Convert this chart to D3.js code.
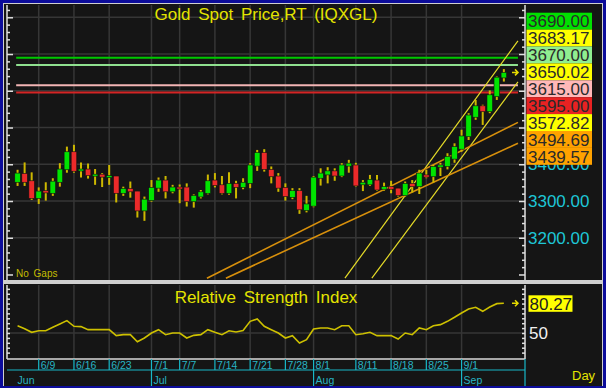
<!DOCTYPE html>
<html>
<head>
<meta charset="utf-8">
<script src="https://cdn.jsdelivr.net/npm/d3@7"></script>
<style>
  body { margin: 0; background: #ffffff; }
  svg { display: block; font-family: Arial, "Liberation Sans", sans-serif; }
</style>
</head>
<body>
<svg id="chart" width="606" height="388"></svg>
<script>
// ---- data ----
var dates = [
  "6/4","6/5","6/6","6/9","6/10","6/11","6/12","6/13","6/16","6/17","6/18","6/19","6/20",
  "6/23","6/24","6/25","6/26","6/27","6/30",
  "7/1","7/2","7/3","7/4","7/7","7/8","7/9","7/10","7/11","7/14","7/15","7/16","7/17","7/18",
  "7/21","7/22","7/23","7/24","7/25","7/28","7/29","7/30","7/31",
  "8/1","8/4","8/5","8/6","8/7","8/8","8/11","8/12","8/13","8/14","8/15","8/18","8/19","8/20",
  "8/21","8/22","8/25","8/26","8/27","8/28","8/29",
  "9/1","9/2","9/3","9/4","9/5","9/8","9/9"
];
var opens = [3351,3375,3355,3307,3328,3321,3351,3385,3434,3382,3387,3369,3373,3365,3368,3321,3334,3327,3273,
  3301,3335,3357,3325,3338,3338,3298,3311,3321,3357,3344,3321,3348,3337,
  3348,3395,3432,3386,3368,3337,3310,3328,3274,
  3286,3362,3371,3382,3368,3395,3398,3344,3344,3357,3332,3339,3335,3315,3348,3339,3371,3366,3392,3394,3414,
  3441,3475,3528,3559,3543,3584,3635];
var highs = [3385,3405,3378,3337,3351,3362,3403,3448,3453,3405,3402,3387,3376,3398,3368,3339,3353,3327,3312,
  3357,3364,3368,3344,3345,3348,3318,3330,3372,3376,3368,3378,3355,3362,
  3403,3439,3441,3394,3376,3348,3335,3335,3314,
  3368,3389,3392,3389,3403,3412,3404,3357,3371,3371,3350,3355,3335,3353,3357,3385,3385,3398,3404,3430,3457,
  3494,3539,3575,3562,3601,3639,3659];
var lows = [3341,3341,3303,3292,3301,3314,3339,3377,3377,3364,3361,3344,3338,3344,3296,3314,3309,3255,3246,
  3298,3325,3307,3321,3294,3285,3282,3307,3318,3337,3318,3317,3307,3332,
  3335,3382,3380,3348,3325,3301,3305,3265,3269,
  3283,3342,3348,3355,3365,3377,3339,3327,3341,3328,3328,3321,3312,3312,3323,3319,3362,3350,3368,3386,3404,
  3434,3466,3521,3507,3539,3575,3625];
var closes = [3376,3351,3307,3327,3322,3354,3387,3434,3381,3387,3369,3373,3365,3369,3321,3334,3325,3273,3305,
  3337,3357,3325,3338,3334,3298,3315,3325,3355,3342,3321,3348,3337,3351,
  3398,3432,3386,3366,3335,3312,3328,3276,3292,
  3365,3376,3382,3368,3398,3403,3341,3351,3359,3330,3339,3332,3315,3348,3339,3376,3365,3394,3398,3421,3448,
  3477,3534,3559,3543,3589,3637,3650.02];
var rsiValues = [57.4,54.4,50.7,52.3,52.3,55.8,59.2,62.6,56.8,56.5,53.4,53.4,53.4,53.4,47.3,48.3,48.3,41.1,44.9,
  50.0,53.4,48.3,50.0,50.0,44.9,47.6,48.3,53.4,50.7,48.3,52.3,51.0,52.6,
  61.9,64.3,56.8,53.4,50.0,44.9,47.3,39.8,43.2,
  54.1,55.1,55.1,53.4,57.4,57.4,48.3,49.3,50.7,47.3,47.3,47.3,43.9,50.0,48.3,55.1,53.4,57.4,58.5,61.9,66.0,
  70.4,74.5,76.2,72.1,76.5,79.9,80.27];

var weekLabels = ["6/9","6/16","6/23","7/1","7/7","7/14","7/21","7/28","8/1","8/11","8/18","8/25","9/1"];
var monthLabels = ["Jun","Jul","Aug","Sep"];
var monthStarts = ["6/4","7/1","8/1","9/1"];

var levelValues = [3690, 3670, 3615, 3595];
var markerValues = [3690, 3683.17, 3670, 3650.02, 3615, 3595, 3572.82, 3494.69, 3439.57];
var priceTicks = [3200, 3300, 3400, 3500, 3600, 3700, 3800];
var priceLabels = [3200, 3300, 3400];

// trend lines: start bar index / value, and value at the last bar
var trendStartIdx = [46.45, 50.27, 26.87, 29.56];
var trendStartVal = [3090, 3090, 3090, 3090];
var trendEndVal = [3683.17, 3572.82, 3494.69, 3439.57];

// ---- setup ----
var svg = d3.select("#chart");
var W = 606, H = 388;
var plotL = 7, plotR = 525;
var mainTop = 5, mainBot = 280;
var rsiTop = 285, rsiBot = 359;
var lastIdx = dates.length - 1;

var x = d3.scaleLinear().domain([-1.5, 72]).range([plotL, plotR]);
var y = d3.scaleLinear().domain([3085, 3828]).range([mainBot, 7]);
var yr = d3.scaleLinear().domain([50, 80.27]).range([333, 303.3]);

var levelColors = ["#00c800", "#8fe08f", "#f2b4b4", "#d42424"];
var markerColors = ["#00e000", "#ffff00", "#90ee90", "#ffff00", "#ffb8b8", "#e82222", "#ffff00", "#ffa200", "#ffa200"];
var trendColors = ["#e6dc28", "#e6dc28", "#d8900c", "#d8900c"];

// frame
svg.append("rect").attr("width", W).attr("height", H).attr("fill", "#0c0c9a");
svg.append("rect").attr("x", 3).attr("y", 3).attr("width", W - 6).attr("height", H - 5).attr("fill", "#cfcfcf");
svg.append("rect").attr("x", 4).attr("y", 4).attr("width", W - 8).attr("height", mainBot - 4).attr("fill", "#151515");
svg.append("rect").attr("x", 4).attr("y", 284).attr("width", W - 8).attr("height", H - 286).attr("fill", "#151515");

svg.append("clipPath").attr("id", "clipMain").append("rect")
  .attr("x", plotL).attr("y", mainTop).attr("width", plotR - plotL).attr("height", mainBot - mainTop);

var weekIdx = weekLabels.map(function(d){ return dates.indexOf(d); });
var monthIdx = monthStarts.map(function(d){ return dates.indexOf(d); });

// grid main
var gMain = svg.append("g");
gMain.selectAll("line.vg").data(weekIdx).enter().append("line")
  .attr("x1", function(d){ return x(d); }).attr("x2", function(d){ return x(d); })
  .attr("y1", mainTop).attr("y2", mainBot)
  .attr("stroke", "#363636").attr("stroke-width", 1.5);
gMain.selectAll("line.hg").data(priceTicks).enter().append("line")
  .attr("x1", plotL).attr("x2", plotR)
  .attr("y1", function(d){ return y(d); }).attr("y2", function(d){ return y(d); })
  .attr("stroke", "#363636").attr("stroke-width", 1.5);

// price axes (left ticks + right ticks)
var minorTicks = d3.range(3100, 3821, 20);
function styleAxis(g, side) {
  g.select(".domain").attr("d", "M0," + mainTop + "V" + mainBot)
    .attr("stroke", "#e0e0e0").attr("stroke-width", 1.5);
  g.selectAll(".tick line").attr("stroke", "#e0e0e0").attr("stroke-width", 1.5)
    .attr("x2", function(d){
      var s = Math.abs(d % 100) < 0.01 ? 6 : 3;
      return side * s;
    });
}
var gAxL = svg.append("g").attr("transform", "translate(" + plotL + ",0)")
  .call(d3.axisRight(y).tickValues(minorTicks).tickSize(3).tickFormat(""));
styleAxis(gAxL, 1);
var gAxR = svg.append("g").attr("transform", "translate(" + plotR + ",0)")
  .call(d3.axisLeft(y).tickValues(minorTicks).tickSize(3).tickFormat(""));
styleAxis(gAxR, -1);

// price axis labels (cyan), 3400 is partly covered by the marker boxes
svg.selectAll("text.pl").data(priceLabels).enter().append("text")
  .attr("x", 528).attr("y", function(d){ return y(d) + 6; })
  .attr("font-size", 17).attr("fill", "#1ec6d6")
  .text(function(d){ return d.toFixed(2); });

// title
svg.append("text").attr("x", (plotL + plotR) / 2).attr("y", 20)
  .attr("text-anchor", "middle").attr("font-size", 17).attr("word-spacing", 3)
  .attr("fill", "#e4e400").text("Gold Spot Price,RT (IQXGL)");

svg.append("text").attr("x", 16).attr("y", 277).attr("font-size", 10)
  .attr("fill", "#c4bc00").attr("word-spacing", 2).text("No Gaps");

// horizontal level lines
svg.selectAll("line.lvl").data(levelValues).enter().append("line")
  .attr("x1", x(-0.2)).attr("x2", x(71))
  .attr("y1", function(d){ return y(d); }).attr("y2", function(d){ return y(d); })
  .attr("stroke", function(d, i){ return levelColors[i]; }).attr("stroke-width", 2);

// trend lines
var gTrend = svg.append("g").attr("clip-path", "url(#clipMain)");
trendStartIdx.forEach(function(si, i){
  var slope = (trendEndVal[i] - trendStartVal[i]) / (lastIdx - si);
  var endIdx = 71;
  gTrend.append("line")
    .attr("x1", x(si)).attr("y1", y(trendStartVal[i]))
    .attr("x2", x(endIdx)).attr("y2", y(trendEndVal[i] + slope * (endIdx - lastIdx)))
    .attr("stroke", trendColors[i]).attr("stroke-width", i < 2 ? 1.2 : 1.6);
});

// candles
var candles = dates.map(function(d, i){
  return { i: i, o: opens[i], h: highs[i], l: lows[i], c: closes[i] };
});
var gC = svg.append("g");
gC.selectAll("line.wick").data(candles).enter().append("line")
  .attr("x1", function(d){ return x(d.i); }).attr("x2", function(d){ return x(d.i); })
  .attr("y1", function(d){ return y(d.h); }).attr("y2", function(d){ return y(d.l); })
  .attr("stroke", "#cdb800").attr("stroke-width", 2);
gC.selectAll("rect.body").data(candles).enter().append("rect")
  .attr("x", function(d){ return x(d.i) - 2.8; })
  .attr("width", 5.6)
  .attr("y", function(d){ return y(Math.max(d.o, d.c)); })
  .attr("height", function(d){ return Math.max(2, Math.abs(y(d.o) - y(d.c))); })
  .attr("fill", function(d){ return d.c >= d.o ? "#00e400" : "#ec2a2a"; })
  .attr("stroke", "#101010").attr("stroke-width", 0.6);

// last price arrows
function arrow(ax, ay) {
  svg.append("path")
    .attr("d", "M" + (ax - 6) + "," + ay + "H" + ax + "M" + (ax - 3) + "," + (ay - 3) + "L" + ax + "," + ay + "L" + (ax - 3) + "," + (ay + 3))
    .attr("stroke", "#e6dc00").attr("stroke-width", 1.5).attr("fill", "none");
}
arrow(518, y(closes[lastIdx]));

// marker boxes on the price scale, spread so they do not overlap
var boxH = 16.9;
var groups = markerValues.map(function(v, k){ return { sum: y(v), n: 1, first: k }; });
var merged = true;
while (merged) {
  merged = false;
  for (var k = 0; k < groups.length - 1; k++) {
    var a = groups[k], b = groups[k + 1];
    if (a.sum / a.n + a.n * boxH / 2 > b.sum / b.n - b.n * boxH / 2) {
      groups.splice(k, 2, { sum: a.sum + b.sum, n: a.n + b.n, first: a.first });
      merged = true;
      break;
    }
  }
}
var boxTop = [];
groups.forEach(function(g){
  var top = g.sum / g.n - g.n * boxH / 2 - 1.6;
  for (var j = 0; j < g.n; j++) boxTop[g.first + j] = top + j * boxH;
});
var gBox = svg.append("g");
gBox.selectAll("rect").data(markerValues).enter().append("rect")
  .attr("x", 526.5).attr("width", 65.5)
  .attr("y", function(d, i){ return boxTop[i]; }).attr("height", boxH)
  .attr("fill", function(d, i){ return markerColors[i]; });
gBox.selectAll("text").data(markerValues).enter().append("text")
  .attr("x", 528).attr("y", function(d, i){ return boxTop[i] + 14.6; })
  .attr("font-size", 17).attr("fill", "#2a2a2a")
  .text(function(d){ return d.toFixed(2); });

// ---- RSI panel ----
var gR = svg.append("g");
gR.selectAll("line.vg").data(weekIdx).enter().append("line")
  .attr("x1", function(d){ return x(d); }).attr("x2", function(d){ return x(d); })
  .attr("y1", rsiTop).attr("y2", rsiBot)
  .attr("stroke", "#363636").attr("stroke-width", 1.5);
gR.append("line").attr("x1", plotL).attr("x2", plotR).attr("y1", yr(50)).attr("y2", yr(50))
  .attr("stroke", "#363636").attr("stroke-width", 1.5);

var rsiTicks = d3.range(25, 100, 5).filter(function(v){ return yr(v) > rsiTop + 2 && yr(v) < rsiBot - 2; });
var rAxL = svg.append("g").attr("transform", "translate(" + plotL + ",0)")
  .call(d3.axisRight(yr).tickValues(rsiTicks).tickSize(3).tickFormat(""));
rAxL.select(".domain").attr("d", "M0," + rsiTop + "V" + rsiBot).attr("stroke", "#e0e0e0").attr("stroke-width", 1.5);
rAxL.selectAll(".tick line").attr("stroke", "#e0e0e0").attr("stroke-width", 1.5);
var rAxR = svg.append("g").attr("transform", "translate(" + plotR + ",0)")
  .call(d3.axisLeft(yr).tickValues(rsiTicks).tickSize(3).tickFormat(""));
rAxR.select(".domain").attr("d", "M0," + rsiTop + "V" + rsiBot).attr("stroke", "#e0e0e0").attr("stroke-width", 1.5);
rAxR.selectAll(".tick line").attr("stroke", "#e0e0e0").attr("stroke-width", 1.5);
svg.append("line").attr("x1", plotL).attr("x2", plotR).attr("y1", rsiBot).attr("y2", rsiBot)
  .attr("stroke", "#d8d8d8").attr("stroke-width", 1.5);

svg.append("text").attr("x", (plotL + plotR) / 2).attr("y", 303)
  .attr("text-anchor", "middle").attr("font-size", 17).attr("word-spacing", 3)
  .attr("fill", "#e4e400").text("Relative Strength Index");

var rsiLine = d3.line().x(function(d, i){ return x(i); }).y(function(d){ return yr(d); });
svg.append("path").datum(rsiValues).attr("d", rsiLine)
  .attr("fill", "none").attr("stroke", "#cdc000").attr("stroke-width", 1.6);

arrow(518, yr(rsiValues[lastIdx]));
svg.append("rect").attr("x", 528.5).attr("y", yr(rsiValues[lastIdx]) - 8).attr("width", 44).attr("height", 16.5)
  .attr("fill", "#ffff00");
svg.append("text").attr("x", 529.5).attr("y", yr(rsiValues[lastIdx]) + 6.3)
  .attr("font-size", 17).attr("fill", "#202020").text(rsiValues[lastIdx].toFixed(2));
svg.append("text").attr("x", 529).attr("y", yr(50) + 6.3)
  .attr("font-size", 17).attr("fill", "#f0f0f0").text("50");

// ---- date axis ----
var axisMid = 370;
svg.append("line").attr("x1", plotL).attr("x2", plotR).attr("y1", axisMid).attr("y2", axisMid)
  .attr("stroke", "#18b8c8").attr("stroke-width", 1.2);
svg.append("line").attr("x1", plotR).attr("x2", plotR).attr("y1", rsiBot).attr("y2", H - 2)
  .attr("stroke", "#18b8c8").attr("stroke-width", 1.2);
svg.selectAll("line.wk").data(weekIdx).enter().append("line")
  .attr("x1", function(d){ return x(d); }).attr("x2", function(d){ return x(d); })
  .attr("y1", rsiBot).attr("y2", axisMid)
  .attr("stroke", "#18b8c8").attr("stroke-width", 1.2);
svg.selectAll("text.wk").data(weekLabels).enter().append("text")
  .attr("x", function(d, i){ return x(weekIdx[i]) + 2; }).attr("y", 368.5)
  .attr("font-size", 10.5).attr("fill", "#28b4c4")
  .text(function(d){ return d; });
svg.selectAll("line.mo").data(monthIdx.slice(1)).enter().append("line")
  .attr("x1", function(d){ return x(d); }).attr("x2", function(d){ return x(d); })
  .attr("y1", axisMid).attr("y2", H - 2)
  .attr("stroke", "#18b8c8").attr("stroke-width", 1.2);
svg.selectAll("text.mo").data(monthLabels).enter().append("text")
  .attr("x", function(d, i){ return x(monthIdx[i]) + (i === 0 ? 0 : 2); }).attr("y", 384)
  .attr("font-size", 10.5).attr("fill", "#28b4c4")
  .text(function(d){ return d; });
svg.append("text").attr("x", 572).attr("y", 380).attr("font-size", 13)
  .attr("fill", "#e4e400").text("Day");
</script>
</body>
</html>
